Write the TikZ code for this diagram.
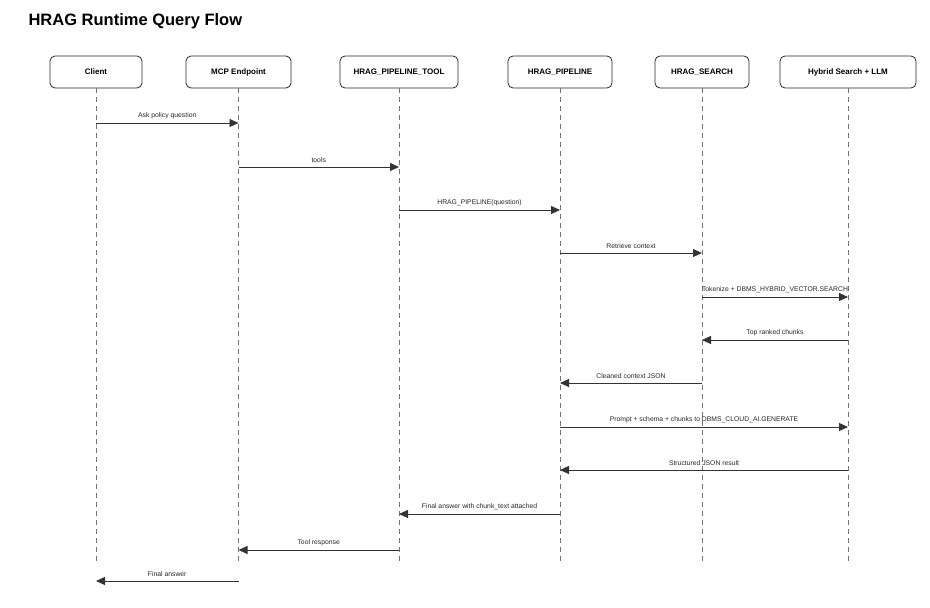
\documentclass[tikz,border=0pt]{standalone}
\usepackage{fontspec}
\setmainfont{Liberation Sans}
\usetikzlibrary{arrows.meta}
\begin{document}
\begin{tikzpicture}[x=1pt,y=-1pt,
  actor/.style={draw=black!85,rounded corners=5pt,line width=0.8pt,minimum height=32pt,font=\fontsize{8}{9}\selectfont\bfseries,inner sep=0pt},
  life/.style={draw=black!55,dashed,line width=0.6pt,dash pattern=on 5pt off 4pt},
  msg/.style={draw=black!80,line width=0.9pt,-{Triangle[length=9pt,width=8pt]}},
  lbl/.style={font=\fontsize{6.8}{8}\selectfont,text=black!85,inner sep=1pt,anchor=south}]
\useasboundingbox (0,0) rectangle (930,608);
\node[anchor=west,font=\fontsize{16.5}{19}\selectfont\bfseries] (title) at (25,21) {HRAG Runtime Query Flow};
\foreach \n/\x/\w/\t in {c/96/92/Client / Cline, m/238.5/105/MCP Endpoint, t/399/118/HRAG\_PIPELINE\_TOOL, p/560/104/HRAG\_PIPELINE, s/702/94/HRAG\_SEARCH, h/848/136/Hybrid Search + LLM}{
  \node[actor,minimum width=\w pt] (\n) at (\x,72) {\t};
  \coordinate (\n e) at (\x,563);
  \draw[life] (\n.south) -- (\n e);
}
\foreach \a/\b/\y/\t in {c/m/123/Ask policy question, m/t/167/tools/call, t/p/210/HRAG\_PIPELINE(question), p/s/253/Retrieve context, s/h/297/Tokenize + DBMS\_HYBRID\_VECTOR.SEARCH, h/s/340/Top ranked chunks, s/p/383/Cleaned context JSON, p/h/427/Prompt + schema + chunks to DBMS\_CLOUD\_AI.GENERATE, h/p/470/Structured JSON result, p/t/514/Final answer with chunk\_text attached, t/m/550/Tool response, m/c/581/Final answer}{
  \coordinate (\a\y) at (\a |- 0,\y);
  \coordinate (\b\y) at (\b |- 0,\y);
  \draw[msg] (\a\y) -- node[lbl,yshift=3pt]{\t} (\b\y);
}
\end{tikzpicture}
\end{document}
